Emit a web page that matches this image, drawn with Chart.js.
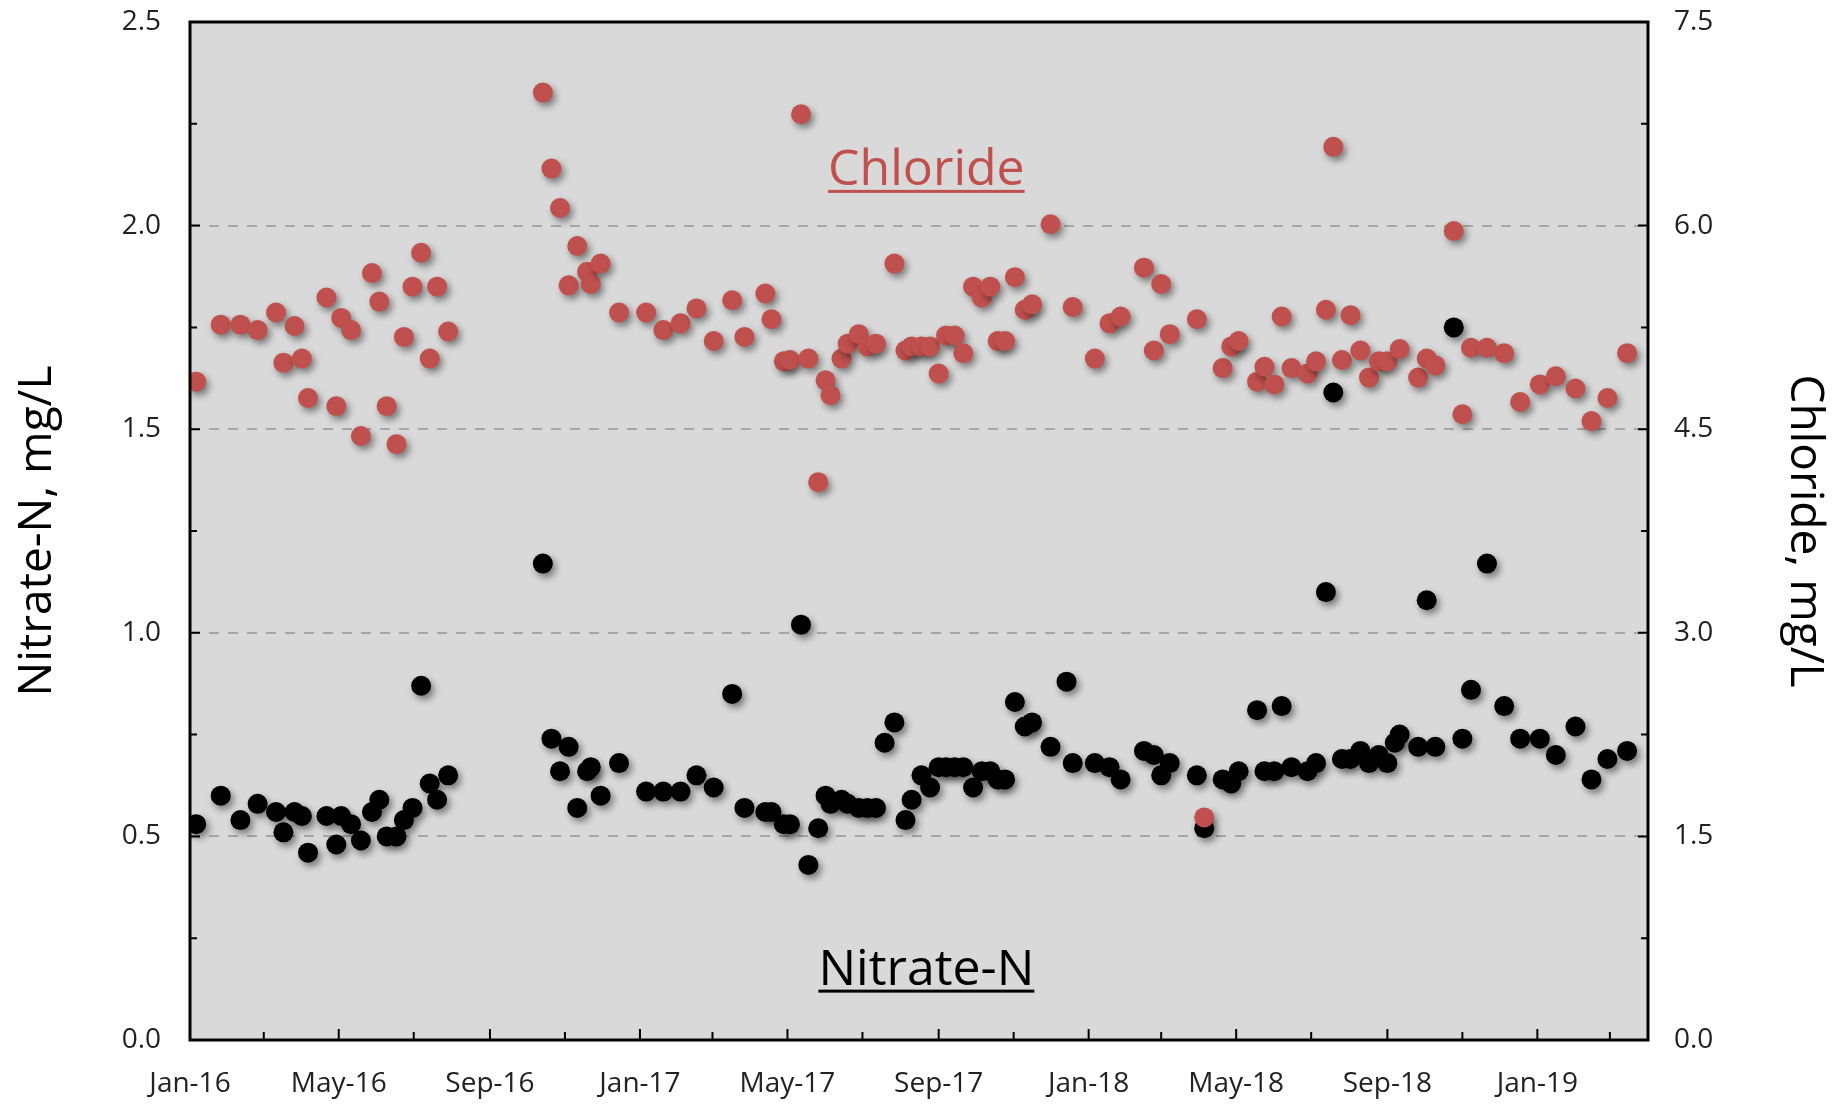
<!DOCTYPE html>
<html>
<head>
<meta charset="utf-8">
<title>Nitrate-N and Chloride</title>
<script src="https://cdn.jsdelivr.net/npm/chart.js@4.4.1/dist/chart.umd.min.js"></script>
<style>
  html, body { margin: 0; padding: 0; background: #fff; }
  canvas { display: block; }
</style>
</head>
<body>
<canvas id="chart" width="1843" height="1104"></canvas>
<script>
// sampling dates (one row per sample; null = not measured)
const sampleDates = [
  '2016-01-06', '2016-01-26', '2016-02-11', '2016-02-25', '2016-03-11', '2016-03-17', '2016-03-26', '2016-04-01',
  '2016-04-06', '2016-04-21', '2016-04-29', '2016-05-03', '2016-05-11', '2016-05-19', '2016-05-28', '2016-06-03',
  '2016-06-09', '2016-06-17', '2016-06-23', '2016-06-30', '2016-07-07', '2016-07-14', '2016-07-20', '2016-07-29',
  '2016-10-14', '2016-10-21', '2016-10-28', '2016-11-04', '2016-11-11', '2016-11-19', '2016-11-22', '2016-11-30',
  '2016-12-15',
  '2017-01-06', '2017-01-20', '2017-02-03', '2017-02-16', '2017-03-02', '2017-03-17', '2017-03-27', '2017-04-13',
  '2017-04-18', '2017-04-28', '2017-05-03', '2017-05-12', '2017-05-18', '2017-05-26', '2017-06-01', '2017-06-05',
  '2017-06-14', '2017-06-19', '2017-06-28', '2017-07-05', '2017-07-12', '2017-07-19', '2017-07-27', '2017-08-05',
  '2017-08-10', '2017-08-18', '2017-08-25', '2017-09-01', '2017-09-07', '2017-09-14', '2017-09-21', '2017-09-29',
  '2017-10-06', '2017-10-13', '2017-10-19', '2017-10-25', '2017-11-02', '2017-11-10', '2017-11-16', '2017-12-01',
  '2017-12-14', '2017-12-19',
  '2018-01-06', '2018-01-18', '2018-01-27', '2018-02-15', '2018-02-23', '2018-03-01', '2018-03-08', '2018-03-30',
  '2018-04-05', '2018-04-20', '2018-04-27', '2018-05-03', '2018-05-18', '2018-05-24', '2018-06-01', '2018-06-07',
  '2018-06-15', '2018-06-28', '2018-07-05', '2018-07-13', '2018-07-19', '2018-07-26', '2018-08-02', '2018-08-10',
  '2018-08-17', '2018-08-25', '2018-09-01', '2018-09-07', '2018-09-11', '2018-09-26', '2018-10-03', '2018-10-10',
  '2018-10-25', '2018-11-01', '2018-11-08', '2018-11-21', '2018-12-05', '2018-12-18',
  '2019-01-03', '2019-01-16', '2019-02-01', '2019-02-14', '2019-02-27', '2019-03-15'
];

// Nitrate-N, mg/L (left axis)
const nitrate = [
  0.53, 0.60, 0.54, 0.58, 0.56, 0.51, 0.56, 0.55, 0.46, 0.55, 0.48, 0.55, 0.53, 0.49, 0.56, 0.59,
  0.50, 0.50, 0.54, 0.57, 0.87, 0.63, 0.59, 0.65,
  1.17, 0.74, 0.66, 0.72, 0.57, 0.66, 0.67, 0.60, 0.68,
  0.61, 0.61, 0.61, 0.65, 0.62, 0.85, 0.57, 0.56, 0.56, 0.53,
  0.53, 1.02, 0.43, 0.52, 0.60, 0.58, 0.59, 0.58, 0.57, 0.57,
  0.57, 0.73, 0.78, 0.54, 0.59, 0.65, 0.62, 0.67, 0.67, 0.67,
  0.67, 0.62, 0.66, 0.66, 0.64, 0.64, 0.83, 0.77, 0.78, 0.72,
  0.88, 0.68,
  0.68, 0.67, 0.64, 0.71, 0.70, 0.65, 0.68, 0.65, 0.52, 0.64,
  0.63, 0.66, 0.81, 0.66, 0.66, 0.82, 0.67, 0.66, 0.68, 1.10,
  1.59, 0.69, 0.69, 0.71, 0.68, 0.70, 0.68, 0.73, 0.75, 0.72,
  1.08, 0.72, 1.75, 0.74, 0.86, 1.17, 0.82, 0.74,
  0.74, 0.70, 0.77, 0.64, 0.69, 0.71
];

// Chloride, mg/L (right axis)
const chloride = [
  4.85, 5.27, 5.27, 5.23, 5.36, 4.99, 5.26, 5.02, 4.73, 5.47, 4.67, 5.32, 5.23, 4.45, 5.65, 5.44,
  4.67, 4.39, 5.18, 5.55, 5.80, 5.02, 5.55, 5.22,
  6.98, 6.42, 6.13, 5.56, 5.85, 5.66, 5.57, 5.72, 5.36,
  5.36, 5.23, 5.28, 5.39, 5.15, 5.45, 5.18, 5.50, 5.31, 5.00,
  5.01, 6.82, 5.02, 4.11, 4.86, 4.75, 5.02, 5.13, 5.20, 5.11,
  5.13, null, 5.72, 5.08, 5.11, 5.11, 5.11, 4.91, 5.19, 5.19,
  5.06, 5.55, 5.47, 5.55, 5.15, 5.15, 5.62, 5.38, 5.42, 6.01,
  null, 5.40,
  5.02, 5.28, 5.33, 5.69, 5.08, 5.57, 5.20, 5.31, 1.64, 4.95,
  5.11, 5.15, 4.85, 4.96, 4.83, 5.33, 4.95, 4.91, 5.00, 5.38,
  6.58, 5.01, 5.34, 5.08, 4.88, 5.00, 5.00, null, 5.09, 4.88,
  5.02, 4.97, 5.96, 4.61, 5.10, 5.10, 5.06, 4.70,
  4.83, 4.89, 4.80, 4.56, 4.73, 5.06
];

// labelled x ticks
const tickDates = ['2016-01-01', '2016-05-01', '2016-09-01', '2017-01-01', '2017-05-01',
                   '2017-09-01', '2018-01-01', '2018-05-01', '2018-09-01', '2019-01-01'];
const tickLabels = ['Jan-16', 'May-16', 'Sep-16', 'Jan-17', 'May-17',
                    'Sep-17', 'Jan-18', 'May-18', 'Sep-18', 'Jan-19'];

// in-plot series names, anchored at a date and a left-axis value (baseline)
const seriesNames = [
  { text: 'Chloride', color: '#c0504d', date: '2017-08-22', value: 2.10 },
  { text: 'Nitrate-N', color: '#000000', date: '2017-08-22', value: 0.136 }
];

const toPoints = (values) => sampleDates
  .map((d, i) => ({ x: Date.parse(d), y: values[i] }))
  .filter(p => p.y !== null);

const tickFont = { family: 'Open Sans', size: 28 };
const titleFont = { family: 'Open Sans', size: 46 };

// fixed side widths; no extra room reserved for the end labels
const fixWidth = (w) => (s) => {
  s.width = w;
  s.paddingTop = 0;
  s.paddingBottom = 0;
};

const plotBackground = {
  id: 'plotBackground',
  beforeDraw(chart) {
    const { ctx, chartArea: a } = chart;
    ctx.save();
    ctx.fillStyle = '#d9d9d9';
    ctx.fillRect(a.left, a.top, a.width, a.height);
    ctx.restore();
  }
};

const markerShadow = {
  id: 'markerShadow',
  beforeDatasetsDraw(chart) {
    const ctx = chart.ctx;
    ctx.save();
    ctx.shadowColor = 'rgba(0, 0, 0, 0.45)';
    ctx.shadowBlur = 7;
    ctx.shadowOffsetX = 3;
    ctx.shadowOffsetY = 4;
  },
  afterDatasetsDraw(chart) {
    chart.ctx.restore();
  }
};

// inside tick marks, plot frame and the underlined series names
const frameAndLabels = {
  id: 'frameAndLabels',
  afterDraw(chart) {
    const { ctx, chartArea: a, scales } = chart;
    ctx.save();
    ctx.strokeStyle = '#000';
    ctx.lineWidth = 2;
    ctx.beginPath();
    for (let m = 2; m < 39; m += 2) {
      const px = scales.x.getPixelForValue(Date.UTC(2016, m, 1));
      const len = m % 4 === 0 ? 11 : 8;
      ctx.moveTo(px, a.bottom);
      ctx.lineTo(px, a.bottom - len);
    }
    for (let k = 1; k < 10; k++) {
      const len = k % 2 === 0 ? 10 : 7;
      const py = scales.y.getPixelForValue(k * 0.25);
      ctx.moveTo(a.left, py);
      ctx.lineTo(a.left + len, py);
      const py2 = scales.y2.getPixelForValue(k * 0.75);
      ctx.moveTo(a.right, py2);
      ctx.lineTo(a.right - len, py2);
    }
    ctx.stroke();
    ctx.lineWidth = 3;
    ctx.strokeRect(a.left, a.top, a.width, a.height);

    ctx.font = '50px "Open Sans"';
    ctx.textAlign = 'center';
    ctx.textBaseline = 'alphabetic';
    for (const s of seriesNames) {
      const cx = scales.x.getPixelForValue(Date.parse(s.date));
      const by = scales.y.getPixelForValue(s.value);
      ctx.fillStyle = s.color;
      ctx.fillText(s.text, cx, by);
      const w = ctx.measureText(s.text).width;
      ctx.fillRect(cx - w / 2, by + 5, w, 3);
    }
    ctx.restore();
  }
};

new Chart(document.getElementById('chart'), {
  type: 'scatter',
  data: {
    datasets: [
      {
        label: 'Chloride',
        data: toPoints(chloride),
        yAxisID: 'y2',
        backgroundColor: '#c0504d',
        pointRadius: 10,
        pointBorderWidth: 0,
        order: 1
      },
      {
        label: 'Nitrate-N',
        data: toPoints(nitrate),
        yAxisID: 'y',
        backgroundColor: '#000000',
        pointRadius: 10,
        pointBorderWidth: 0,
        order: 2
      }
    ]
  },
  options: {
    responsive: false,
    animation: false,
    layout: { padding: { top: 22, left: 0, right: 0, bottom: 0 } },
    plugins: {
      legend: { display: false },
      tooltip: { enabled: false }
    },
    scales: {
      x: {
        type: 'linear',
        min: Date.parse('2016-01-01'),
        max: Date.parse('2019-04-01'),
        afterBuildTicks: s => { s.ticks = tickDates.map(d => ({ value: Date.parse(d) })); },
        afterFit: s => { s.height = 64; },
        grid: { display: false, drawTicks: false },
        border: { display: false },
        ticks: {
          callback: (v, i) => tickLabels[i],
          autoSkip: false,
          maxRotation: 0,
          padding: 27,
          color: '#222',
          font: tickFont
        }
      },
      y: {
        position: 'left',
        min: 0,
        max: 2.5,
        afterFit: fixWidth(190),
        ticks: {
          stepSize: 0.5,
          callback: v => v.toFixed(1),
          padding: 29,
          color: '#222',
          font: tickFont
        },
        grid: {
          color: c => (c.tick.value > 0 && c.tick.value < 2.5) ? '#a6a6a6' : 'rgba(0,0,0,0)',
          lineWidth: 2,
          drawTicks: false
        },
        border: { display: false, dash: [10, 9] },
        title: {
          display: true,
          text: 'Nitrate-N, mg/L',
          color: '#000',
          font: titleFont,
          padding: { top: 10, bottom: 0 }
        }
      },
      y2: {
        position: 'right',
        min: 0,
        max: 7.5,
        afterFit: fixWidth(195),
        ticks: {
          stepSize: 1.5,
          callback: v => v.toFixed(1),
          padding: 26,
          color: '#222',
          font: tickFont
        },
        grid: { display: false, drawTicks: false },
        border: { display: false },
        title: {
          display: true,
          text: 'Chloride, mg/L',
          color: '#000',
          font: titleFont,
          padding: { top: 11, bottom: 0 }
        }
      }
    }
  },
  plugins: [plotBackground, markerShadow, frameAndLabels]
});
</script>
</body>
</html>
